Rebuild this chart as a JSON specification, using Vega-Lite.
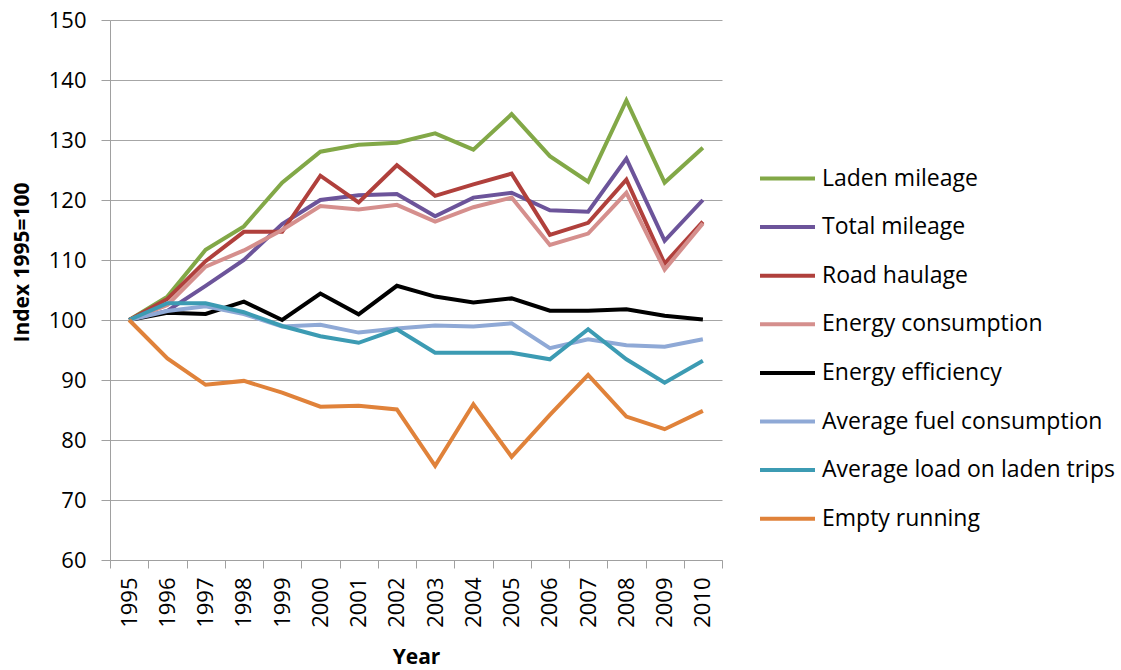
{
  "$schema": "https://vega.github.io/schema/vega-lite/v6.json",
  "width": 612,
  "height": 540,
  "autosize": {"type": "none"},
  "padding": {"left": 110, "top": 20, "right": 399, "bottom": 110},
  "background": "white",
  "config": {"view": {"stroke": null}, "font": "Open Sans"},
  "data": {"values": [
    {"year":1995,"series":"Laden mileage","value":100},
    {"year":1996,"series":"Laden mileage","value":103.9},
    {"year":1997,"series":"Laden mileage","value":111.7},
    {"year":1998,"series":"Laden mileage","value":115.6},
    {"year":1999,"series":"Laden mileage","value":122.9},
    {"year":2000,"series":"Laden mileage","value":128.05},
    {"year":2001,"series":"Laden mileage","value":129.2},
    {"year":2002,"series":"Laden mileage","value":129.55},
    {"year":2003,"series":"Laden mileage","value":131.1},
    {"year":2004,"series":"Laden mileage","value":128.4},
    {"year":2005,"series":"Laden mileage","value":134.3},
    {"year":2006,"series":"Laden mileage","value":127.3},
    {"year":2007,"series":"Laden mileage","value":123.05},
    {"year":2008,"series":"Laden mileage","value":136.6},
    {"year":2009,"series":"Laden mileage","value":122.9},
    {"year":2010,"series":"Laden mileage","value":128.7},
    {"year":1995,"series":"Total mileage","value":100},
    {"year":1996,"series":"Total mileage","value":101.5},
    {"year":1997,"series":"Total mileage","value":105.7},
    {"year":1998,"series":"Total mileage","value":110},
    {"year":1999,"series":"Total mileage","value":116},
    {"year":2000,"series":"Total mileage","value":120},
    {"year":2001,"series":"Total mileage","value":120.8},
    {"year":2002,"series":"Total mileage","value":121},
    {"year":2003,"series":"Total mileage","value":117.3},
    {"year":2004,"series":"Total mileage","value":120.4},
    {"year":2005,"series":"Total mileage","value":121.2},
    {"year":2006,"series":"Total mileage","value":118.3},
    {"year":2007,"series":"Total mileage","value":118.05},
    {"year":2008,"series":"Total mileage","value":126.9},
    {"year":2009,"series":"Total mileage","value":113.2},
    {"year":2010,"series":"Total mileage","value":120},
    {"year":1995,"series":"Road haulage","value":100},
    {"year":1996,"series":"Road haulage","value":103.5},
    {"year":1997,"series":"Road haulage","value":109.8},
    {"year":1998,"series":"Road haulage","value":114.7},
    {"year":1999,"series":"Road haulage","value":114.7},
    {"year":2000,"series":"Road haulage","value":124.05},
    {"year":2001,"series":"Road haulage","value":119.6},
    {"year":2002,"series":"Road haulage","value":125.8},
    {"year":2003,"series":"Road haulage","value":120.7},
    {"year":2004,"series":"Road haulage","value":122.6},
    {"year":2005,"series":"Road haulage","value":124.4},
    {"year":2006,"series":"Road haulage","value":114.2},
    {"year":2007,"series":"Road haulage","value":116.2},
    {"year":2008,"series":"Road haulage","value":123.4},
    {"year":2009,"series":"Road haulage","value":109.4},
    {"year":2010,"series":"Road haulage","value":116.4},
    {"year":1995,"series":"Energy consumption","value":100},
    {"year":1996,"series":"Energy consumption","value":102.5},
    {"year":1997,"series":"Energy consumption","value":108.9},
    {"year":1998,"series":"Energy consumption","value":111.6},
    {"year":1999,"series":"Energy consumption","value":115},
    {"year":2000,"series":"Energy consumption","value":119},
    {"year":2001,"series":"Energy consumption","value":118.4},
    {"year":2002,"series":"Energy consumption","value":119.2},
    {"year":2003,"series":"Energy consumption","value":116.4},
    {"year":2004,"series":"Energy consumption","value":118.8},
    {"year":2005,"series":"Energy consumption","value":120.4},
    {"year":2006,"series":"Energy consumption","value":112.5},
    {"year":2007,"series":"Energy consumption","value":114.4},
    {"year":2008,"series":"Energy consumption","value":121.2},
    {"year":2009,"series":"Energy consumption","value":108.4},
    {"year":2010,"series":"Energy consumption","value":116.1},
    {"year":1995,"series":"Energy efficiency","value":100},
    {"year":1996,"series":"Energy efficiency","value":101.2},
    {"year":1997,"series":"Energy efficiency","value":101},
    {"year":1998,"series":"Energy efficiency","value":103.05},
    {"year":1999,"series":"Energy efficiency","value":100},
    {"year":2000,"series":"Energy efficiency","value":104.4},
    {"year":2001,"series":"Energy efficiency","value":100.95},
    {"year":2002,"series":"Energy efficiency","value":105.7},
    {"year":2003,"series":"Energy efficiency","value":103.9},
    {"year":2004,"series":"Energy efficiency","value":102.9},
    {"year":2005,"series":"Energy efficiency","value":103.6},
    {"year":2006,"series":"Energy efficiency","value":101.55},
    {"year":2007,"series":"Energy efficiency","value":101.55},
    {"year":2008,"series":"Energy efficiency","value":101.8},
    {"year":2009,"series":"Energy efficiency","value":100.7},
    {"year":2010,"series":"Energy efficiency","value":100.1},
    {"year":1995,"series":"Average fuel consumption","value":100},
    {"year":1996,"series":"Average fuel consumption","value":101.5},
    {"year":1997,"series":"Average fuel consumption","value":102.3},
    {"year":1998,"series":"Average fuel consumption","value":101.0},
    {"year":1999,"series":"Average fuel consumption","value":98.9},
    {"year":2000,"series":"Average fuel consumption","value":99.2},
    {"year":2001,"series":"Average fuel consumption","value":97.9},
    {"year":2002,"series":"Average fuel consumption","value":98.6},
    {"year":2003,"series":"Average fuel consumption","value":99.1},
    {"year":2004,"series":"Average fuel consumption","value":98.9},
    {"year":2005,"series":"Average fuel consumption","value":99.45},
    {"year":2006,"series":"Average fuel consumption","value":95.3},
    {"year":2007,"series":"Average fuel consumption","value":96.8},
    {"year":2008,"series":"Average fuel consumption","value":95.8},
    {"year":2009,"series":"Average fuel consumption","value":95.55},
    {"year":2010,"series":"Average fuel consumption","value":96.8},
    {"year":1995,"series":"Average load on laden trips","value":100},
    {"year":1996,"series":"Average load on laden trips","value":102.8},
    {"year":1997,"series":"Average load on laden trips","value":102.8},
    {"year":1998,"series":"Average load on laden trips","value":101.3},
    {"year":1999,"series":"Average load on laden trips","value":99.0},
    {"year":2000,"series":"Average load on laden trips","value":97.3},
    {"year":2001,"series":"Average load on laden trips","value":96.2},
    {"year":2002,"series":"Average load on laden trips","value":98.45},
    {"year":2003,"series":"Average load on laden trips","value":94.55},
    {"year":2004,"series":"Average load on laden trips","value":94.55},
    {"year":2005,"series":"Average load on laden trips","value":94.55},
    {"year":2006,"series":"Average load on laden trips","value":93.45},
    {"year":2007,"series":"Average load on laden trips","value":98.45},
    {"year":2008,"series":"Average load on laden trips","value":93.45},
    {"year":2009,"series":"Average load on laden trips","value":89.55},
    {"year":2010,"series":"Average load on laden trips","value":93.2},
    {"year":1995,"series":"Empty running","value":100},
    {"year":1996,"series":"Empty running","value":93.6},
    {"year":1997,"series":"Empty running","value":89.2},
    {"year":1998,"series":"Empty running","value":89.85},
    {"year":1999,"series":"Empty running","value":87.9},
    {"year":2000,"series":"Empty running","value":85.55},
    {"year":2001,"series":"Empty running","value":85.7},
    {"year":2002,"series":"Empty running","value":85.1},
    {"year":2003,"series":"Empty running","value":75.7},
    {"year":2004,"series":"Empty running","value":85.95},
    {"year":2005,"series":"Empty running","value":77.2},
    {"year":2006,"series":"Empty running","value":84.2},
    {"year":2007,"series":"Empty running","value":90.85},
    {"year":2008,"series":"Empty running","value":83.9},
    {"year":2009,"series":"Empty running","value":81.8},
    {"year":2010,"series":"Empty running","value":84.85}
  ]},
  "mark": {"type": "line", "strokeWidth": 4},
  "encoding": {
    "x": {
      "field": "year", "type": "quantitative",
      "scale": {"domain": [1994.5, 2010.5], "nice": false, "zero": false},
      "axis": {
        "values": [1994.5,1995.5,1996.5,1997.5,1998.5,1999.5,2000.5,2001.5,2002.5,2003.5,2004.5,2005.5,2006.5,2007.5,2008.5,2009.5,2010.5],
        "labelExpr": "datum.value < 2010 ? format(datum.value + 0.5, 'd') : ''",
        "labelOffset": 19,
        "labelAngle": 270,
        "labelAlign": "right",
        "labelBaseline": "middle",
        "labelPadding": 9,
        "labelOverlap": false,
        "labelBound": false,
        "labelFlush": false,
        "labelFontSize": 22,
        "labelColor": "#000000",
        "tickSize": 8,
        "tickColor": "#A0A0A0",
        "domainColor": "#A0A0A0",
        "grid": false,
        "title": "Year",
        "titleFontSize": 21,
        "titleFontWeight": "bold",
        "titleColor": "#000000",
        "titleX": 306,
        "titleY": 97,
        "titleAlign": "center",
        "titleBaseline": "middle"
      }
    },
    "y": {
      "field": "value", "type": "quantitative",
      "scale": {"domain": [60, 150], "nice": false, "zero": false},
      "axis": {
        "values": [60,70,80,90,100,110,120,130,140,150],
        "grid": true,
        "gridColor": "#A6A6A6",
        "gridWidth": 1,
        "tickSize": 9,
        "tickColor": "#A0A0A0",
        "domainColor": "#A0A0A0",
        "labelPadding": 15,
        "labelFontSize": 22,
        "labelColor": "#000000",
        "title": "Index 1995=100",
        "titleFontSize": 21,
        "titleFontWeight": "bold",
        "titleColor": "#000000",
        "titleAngle": 270,
        "titleX": -88,
        "titleY": 242,
        "titleAlign": "center",
        "titleBaseline": "middle"
      }
    },
    "color": {
      "field": "series", "type": "nominal",
      "scale": {
        "domain": ["Laden mileage","Total mileage","Road haulage","Energy consumption","Energy efficiency","Average fuel consumption","Average load on laden trips","Empty running"],
        "range": ["#82A847","#6C549A","#B0403C","#D58F8D","#000000","#8FA9D6","#3C9BB3","#E0823A"]
      },
      "legend": {
        "orient": "none",
        "legendX": 648,
        "legendY": 129,
        "title": null,
        "symbolType": "stroke",
        "symbolStrokeWidth": 4,
        "symbolSize": 3025,
        "labelFontSize": 23,
        "labelColor": "#000000",
        "labelOffset": 5,
        "rowPadding": 6.6,
        "labelLimit": 400
      }
    }
  }
}
